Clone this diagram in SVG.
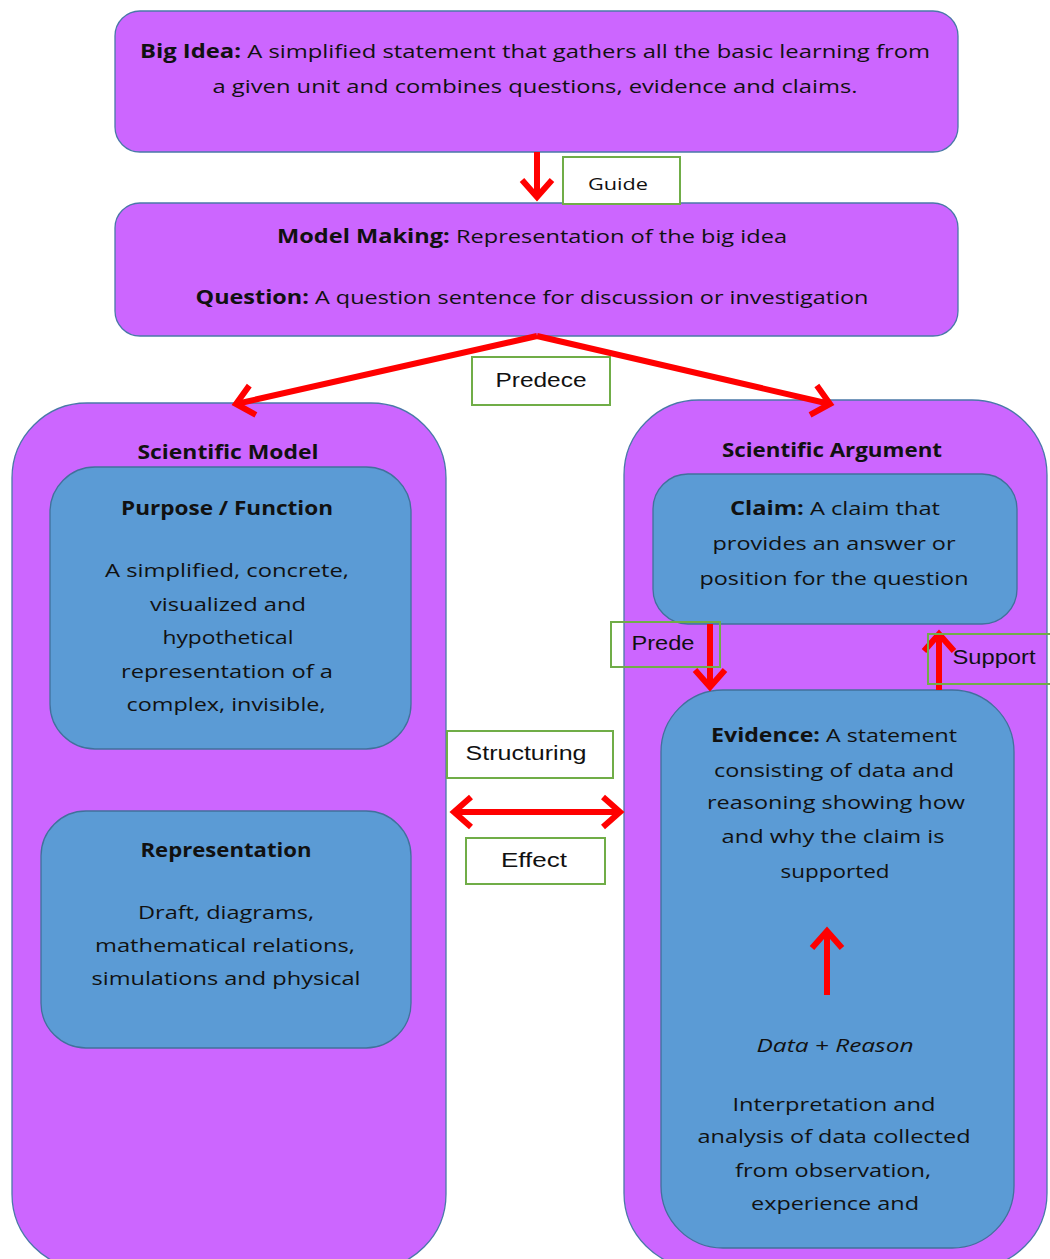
<svg xmlns="http://www.w3.org/2000/svg" width="1050" height="1259" viewBox="0 0 1050 1259">
<defs>
<style>
.purple{fill:#cc66ff;stroke:#4a78a8;stroke-width:1.3}
.blue{fill:#5b9bd5;stroke:#41719c;stroke-width:1.3}
.lbl{fill:#ffffff;stroke:#70ad47;stroke-width:2}
.t{font-family:"Open Sans","Noto Sans","DejaVu Sans",sans-serif;font-size:19px;fill:#111111;text-anchor:middle}
.b{font-weight:bold}
.i{font-style:italic}
.a{font-family:"Liberation Sans",Arial,sans-serif;font-size:20px;fill:#111111;text-anchor:middle}
.arr{stroke:#ff0000;stroke-width:6;fill:none}
</style>
<marker id="chev" markerUnits="userSpaceOnUse" viewBox="-24 -18 28 36" markerWidth="28" markerHeight="36" refX="0" refY="0" orient="auto-start-reverse" overflow="visible">
<polyline points="-17,-15 0,0 -17,15" fill="none" stroke="#ff0000" stroke-width="6" stroke-linejoin="miter"/>
</marker>
</defs>

<g id="big-idea">
<rect class="purple" x="115" y="11" width="843" height="141" rx="25"/>
<text class="t" x="535" y="58" textLength="790" lengthAdjust="spacingAndGlyphs"><tspan class="b">Big Idea:</tspan> A simplified statement that gathers all the basic learning from</text>
<text class="t" x="535" y="93" textLength="645" lengthAdjust="spacingAndGlyphs">a given unit and combines questions, evidence and claims.</text>
</g>

<g id="model-making">
<rect class="purple" x="115" y="203" width="843" height="133" rx="25"/>
<text class="t" x="532" y="243" textLength="510" lengthAdjust="spacingAndGlyphs"><tspan class="b">Model Making:</tspan> Representation of the big idea</text>
<text class="t" x="532" y="304" textLength="673" lengthAdjust="spacingAndGlyphs"><tspan class="b">Question:</tspan> A question sentence for discussion or investigation</text>
</g>

<g id="scientific-model">
<rect class="purple" x="12" y="403" width="434" height="866" rx="75"/>
<text class="t b" x="228" y="459" textLength="181" lengthAdjust="spacingAndGlyphs">Scientific Model</text>
</g>

<g id="purpose-function">
<rect class="blue" x="50" y="467" width="361" height="282" rx="45"/>
<text class="t b" x="227" y="515" textLength="212" lengthAdjust="spacingAndGlyphs">Purpose / Function</text>
<text class="t" x="227" y="577" textLength="244" lengthAdjust="spacingAndGlyphs">A simplified, concrete,</text>
<text class="t" x="228" y="611" textLength="156" lengthAdjust="spacingAndGlyphs">visualized and</text>
<text class="t" x="228" y="644" textLength="131" lengthAdjust="spacingAndGlyphs">hypothetical</text>
<text class="t" x="227" y="678" textLength="212" lengthAdjust="spacingAndGlyphs">representation of a</text>
<text class="t" x="226" y="711" textLength="199" lengthAdjust="spacingAndGlyphs">complex, invisible,</text>
</g>

<g id="representation">
<rect class="blue" x="41" y="811" width="370" height="237" rx="45"/>
<text class="t b" x="226" y="857" textLength="171" lengthAdjust="spacingAndGlyphs">Representation</text>
<text class="t" x="226" y="919" textLength="176" lengthAdjust="spacingAndGlyphs">Draft, diagrams,</text>
<text class="t" x="225" y="952" textLength="260" lengthAdjust="spacingAndGlyphs">mathematical relations,</text>
<text class="t" x="226" y="985" textLength="269" lengthAdjust="spacingAndGlyphs">simulations and physical</text>
</g>

<g id="scientific-argument">
<rect class="purple" x="624" y="400" width="423" height="868" rx="75"/>
<text class="t b" x="832" y="457" textLength="220" lengthAdjust="spacingAndGlyphs">Scientific Argument</text>
</g>

<g id="claim">
<rect class="blue" x="653" y="474" width="364" height="150" rx="35"/>
<text class="t" x="835" y="515" textLength="210" lengthAdjust="spacingAndGlyphs"><tspan class="b">Claim:</tspan> A claim that</text>
<text class="t" x="834" y="550" textLength="243" lengthAdjust="spacingAndGlyphs">provides an answer or</text>
<text class="t" x="834" y="585" textLength="269" lengthAdjust="spacingAndGlyphs">position for the question</text>
</g>

<g id="evidence">
<rect class="blue" x="661" y="690" width="353" height="558" rx="62"/>
<text class="t" x="834" y="742" textLength="246" lengthAdjust="spacingAndGlyphs"><tspan class="b">Evidence:</tspan> A statement</text>
<text class="t" x="834" y="777" textLength="240" lengthAdjust="spacingAndGlyphs">consisting of data and</text>
<text class="t" x="836" y="809" textLength="258" lengthAdjust="spacingAndGlyphs">reasoning showing how</text>
<text class="t" x="833" y="843" textLength="223" lengthAdjust="spacingAndGlyphs">and why the claim is</text>
<text class="t" x="835" y="878" textLength="109" lengthAdjust="spacingAndGlyphs">supported</text>
<text class="t i" x="835" y="1052" textLength="157" lengthAdjust="spacingAndGlyphs">Data + Reason</text>
<text class="t" x="834" y="1111" textLength="203" lengthAdjust="spacingAndGlyphs">Interpretation and</text>
<text class="t" x="834" y="1143" textLength="273" lengthAdjust="spacingAndGlyphs">analysis of data collected</text>
<text class="t" x="833" y="1177" textLength="196" lengthAdjust="spacingAndGlyphs">from observation,</text>
<text class="t" x="835" y="1210" textLength="168" lengthAdjust="spacingAndGlyphs">experience and</text>
</g>

<g id="connectors">
<line class="arr" x1="537" y1="152" x2="537" y2="197" marker-end="url(#chev)"/>
<line class="arr" x1="537" y1="336" x2="236" y2="404" marker-end="url(#chev)"/>
<line class="arr" x1="537" y1="336" x2="830" y2="404" marker-end="url(#chev)"/>
<line class="arr" x1="454" y1="812" x2="620" y2="812" marker-start="url(#chev)" marker-end="url(#chev)"/>
<line class="arr" x1="710" y1="624" x2="710" y2="687" marker-end="url(#chev)"/>
<line class="arr" x1="939" y1="690" x2="939" y2="634" marker-end="url(#chev)"/>
<line class="arr" x1="827" y1="995" x2="827" y2="931" marker-end="url(#chev)"/>
</g>

<g id="label-guide">
<rect class="lbl" x="563" y="157" width="117" height="47"/>
<text class="t" x="618" y="190" style="font-size:17px" textLength="60" lengthAdjust="spacingAndGlyphs">Guide</text>
</g>
<g id="label-predece">
<rect class="lbl" x="472" y="357" width="138" height="48"/>
<text class="a" x="541" y="387" textLength="91" lengthAdjust="spacingAndGlyphs">Predece</text>
</g>
<g id="label-structuring">
<rect class="lbl" x="447" y="731" width="166" height="47"/>
<text class="a" x="526" y="760" textLength="121" lengthAdjust="spacingAndGlyphs">Structuring</text>
</g>
<g id="label-effect">
<rect class="lbl" x="466" y="838" width="139" height="46"/>
<text class="a" x="534" y="867" textLength="66" lengthAdjust="spacingAndGlyphs">Effect</text>
</g>
<g id="label-prede">
<rect class="lbl" x="611" y="622" width="109" height="45" style="fill:none"/>
<text class="a" x="663" y="650" textLength="63" lengthAdjust="spacingAndGlyphs">Prede</text>
</g>
<g id="label-support">
<rect class="lbl" x="928" y="634" width="124" height="50" style="fill:none"/>
<text class="a" x="994" y="664" textLength="83" lengthAdjust="spacingAndGlyphs">Support</text>
</g>
</svg>
